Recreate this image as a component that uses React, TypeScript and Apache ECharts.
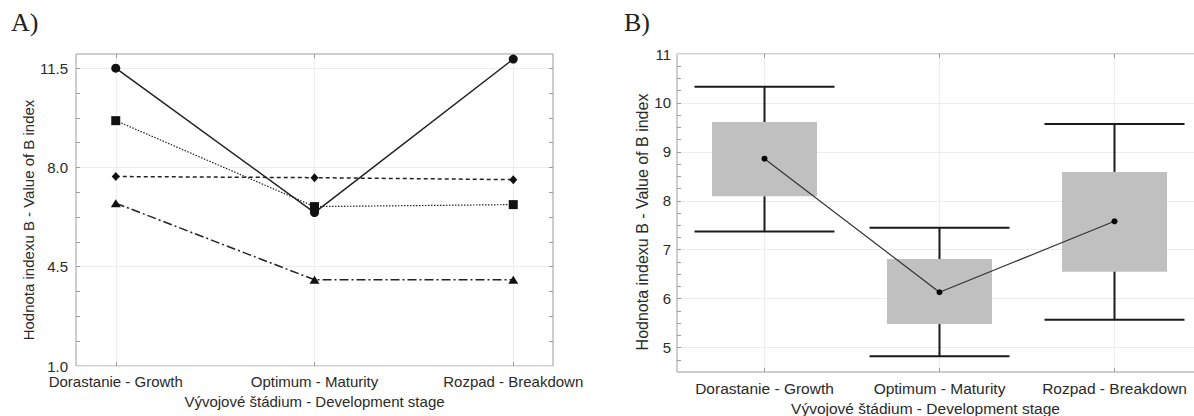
import React, { useEffect, useRef } from "react";
import * as echarts from "echarts";

// ---- data ----
const stages = ["Dorastanie - Growth", "Optimum - Maturity", "Rozpad - Breakdown"];
const stagePositions = [0, 1, 2];

// Panel A: four lines
const seriesCircle = [11.5, 6.41, 11.82];
const seriesSquare = [9.65, 6.62, 6.69];
const seriesDiamond = [7.68, 7.64, 7.57];
const seriesTriangle = [6.74, 4.04, 4.04];
const aMajorTicks = [1.0, 4.5, 8.0, 11.5];
const aMinorTicks = [1.875, 2.75, 3.625, 4.5, 5.375, 6.25, 7.125, 8.0, 8.875, 9.75, 10.625, 11.5];

// Panel B: box plots
const boxLow = [8.09, 5.48, 6.55];
const boxHigh = [9.61, 6.81, 8.59];
const whiskerLow = [7.37, 4.82, 5.57];
const whiskerHigh = [10.33, 7.45, 9.57];
const means = [8.86, 6.13, 7.58];
const bMajorTicks = [5, 6, 7, 8, 9, 10, 11];
const bMinorTicks = [
  4.75, 5, 5.25, 5.5, 5.75, 6, 6.25, 6.5, 6.75, 7, 7.25, 7.5, 7.75, 8, 8.25, 8.5, 8.75,
  9, 9.25, 9.5, 9.75, 10, 10.25, 10.5, 10.75,
];

const yTitle = "Hodnota indexu B - Value of B index";
const xTitle = "Vývojové štádium - Development stage";

const FONT = "'Liberation Sans', Arial, Helvetica, sans-serif";
const TEXT = "#2a2a2a";
const FRAME = "#9c9c9c";
const GRIDC = "#ececec";

export default function App() {
  const ref = useRef<HTMLDivElement>(null);

  useEffect(() => {
    if (!ref.current) return;
    const chart = echarts.init(ref.current, undefined, { renderer: "svg" });

    const tickAxisCommon = {
      axisLine: { show: false, onZero: false },
      axisLabel: { show: false },
      splitLine: { show: false },
    };

    const lineSeries = (
      name: string,
      vals: number[],
      symbol: string,
      size: number | number[],
      type: any,
      width: number
    ) => ({
      name,
      type: "line",
      xAxisIndex: 0,
      yAxisIndex: 0,
      data: stagePositions.map((x, i) => [x, vals[i]]),
      symbol,
      symbolSize: size,
      itemStyle: { color: "#111" },
      lineStyle: { color: "#222", width, type },
      z: 3,
    });

    chart.setOption({
      animation: false,
      backgroundColor: "#ffffff",
      textStyle: { fontFamily: FONT },
      graphic: [
        {
          type: "text",
          left: 11,
          top: 9,
          style: { text: "A)", font: "26px 'Liberation Serif', 'Times New Roman', serif", fill: "#222" },
        },
        {
          type: "text",
          left: 624,
          top: 9,
          style: { text: "B)", font: "26px 'Liberation Serif', 'Times New Roman', serif", fill: "#222" },
        },
      ],
      grid: [
        {
          left: 76, top: 54, width: 477, height: 312,
          show: true, borderColor: FRAME, borderWidth: 1, backgroundColor: "#fff",
          outerBoundsMode: "none", containLabel: false,
        },
        {
          left: 677, top: 54, width: 525, height: 318,
          show: true, borderColor: FRAME, borderWidth: 1, backgroundColor: "#fff",
          outerBoundsMode: "none", containLabel: false,
        },
      ],
      xAxis: [
        {
          gridIndex: 0,
          type: "value",
          position: "bottom",
          min: -0.2,
          max: 2.2,
          axisLine: { show: false, onZero: false },
          axisTick: { show: true, inside: true, length: 4, customValues: stagePositions, lineStyle: { color: FRAME } },
          axisLabel: {
            customValues: stagePositions,
            formatter: (v: number) => stages[Math.round(v)],
            fontSize: 15,
            lineHeight: 15,
            color: TEXT,
            margin: 8,
          },
          splitLine: { show: true, lineStyle: { color: GRIDC, width: 1 } },
          name: xTitle,
          nameLocation: "middle",
          nameGap: 23,
          nameTextStyle: { fontSize: 15, color: TEXT },
        },
        {
          gridIndex: 0,
          type: "value",
          position: "top",
          min: -0.2,
          max: 2.2,
          ...tickAxisCommon,
          axisTick: { show: true, inside: true, length: 4, customValues: stagePositions, lineStyle: { color: FRAME } },
        },
        {
          gridIndex: 1,
          type: "value",
          position: "bottom",
          min: -0.5,
          max: 2.5,
          axisLine: { show: false, onZero: false },
          axisTick: { show: true, inside: true, length: 4, customValues: stagePositions, lineStyle: { color: FRAME } },
          axisLabel: {
            customValues: stagePositions,
            formatter: (v: number) => stages[Math.round(v)],
            fontSize: 15.5,
            lineHeight: 14,
            color: TEXT,
            margin: 9,
          },
          splitLine: { show: true, lineStyle: { color: GRIDC, width: 1 } },
          name: xTitle,
          nameLocation: "middle",
          nameGap: 23,
          nameTextStyle: { fontSize: 15.5, lineHeight: 14, color: TEXT, padding: [0, 28, 0, 0] },
        },
        {
          gridIndex: 1,
          type: "value",
          position: "top",
          min: -0.5,
          max: 2.5,
          ...tickAxisCommon,
          axisTick: { show: true, inside: true, length: 4, customValues: stagePositions, lineStyle: { color: FRAME } },
        },
      ],
      yAxis: [
        {
          gridIndex: 0,
          type: "value",
          position: "left",
          min: 1,
          max: 12,
          axisLine: { show: false, onZero: false },
          axisTick: { show: false, customValues: aMajorTicks },
          axisLabel: {
            customValues: aMajorTicks,
            formatter: (v: number) => v.toFixed(1),
            fontSize: 15,
            lineHeight: 12,
            color: TEXT,
            margin: 8,
          },
          splitLine: { show: true, lineStyle: { color: GRIDC, width: 1 } },
          name: yTitle,
          nameLocation: "middle",
          nameGap: 40,
          nameTextStyle: { fontSize: 15, color: TEXT, padding: [0, 20, 0, 0] },
        },
        {
          gridIndex: 0,
          type: "value",
          position: "left",
          min: 1,
          max: 12,
          ...tickAxisCommon,
          axisTick: { show: true, inside: true, length: 4, customValues: aMinorTicks, lineStyle: { color: FRAME } },
        },
        {
          gridIndex: 0,
          type: "value",
          position: "right",
          min: 1,
          max: 12,
          ...tickAxisCommon,
          axisTick: { show: true, inside: true, length: 4, customValues: aMinorTicks, lineStyle: { color: FRAME } },
        },
        {
          gridIndex: 1,
          type: "value",
          position: "left",
          min: 4.5,
          max: 11,
          axisLine: { show: false, onZero: false },
          axisTick: { show: false, customValues: bMajorTicks },
          axisLabel: {
            customValues: bMajorTicks,
            fontSize: 15,
            lineHeight: 12,
            color: TEXT,
            margin: 6,
          },
          splitLine: { show: true, lineStyle: { color: GRIDC, width: 1 } },
          name: yTitle,
          nameLocation: "middle",
          nameGap: 27,
          nameTextStyle: { fontSize: 16, color: TEXT, padding: [0, 18, 0, 0] },
        },
        {
          gridIndex: 1,
          type: "value",
          position: "left",
          min: 4.5,
          max: 11,
          ...tickAxisCommon,
          axisTick: { show: true, inside: true, length: 4, customValues: bMinorTicks, lineStyle: { color: FRAME } },
        },
      ],
      series: [
        lineSeries("circle", seriesCircle, "circle", 9, "solid", 1.5),
        lineSeries("square", seriesSquare, "rect", 9, [1.5, 1.5], 1.2),
        lineSeries("diamond", seriesDiamond, "diamond", [8, 9], [4, 3], 1.5),
        lineSeries("triangle", seriesTriangle, "triangle", [10, 8], [9, 3, 2, 3], 1.5),
        {
          name: "boxes",
          type: "custom",
          xAxisIndex: 2,
          yAxisIndex: 3,
          data: stagePositions.map((x, i) => [x, boxLow[i], boxHigh[i], whiskerLow[i], whiskerHigh[i]]),
          encode: { x: 0, y: [1, 2, 3, 4] },
          z: 2,
          renderItem: (params: any, api: any) => {
            const x = api.value(0);
            const unit = api.size([1, 0])[0];
            const bLo = api.coord([x, api.value(1)]);
            const bHi = api.coord([x, api.value(2)]);
            const wLo = api.coord([x, api.value(3)]);
            const wHi = api.coord([x, api.value(4)]);
            const bw = unit * 0.3;
            const cw = unit * 0.4;
            const ls = { stroke: "#1a1a1a", lineWidth: 2 };
            return {
              type: "group",
              children: [
                {
                  type: "rect",
                  shape: { x: bLo[0] - bw, y: bHi[1], width: 2 * bw, height: bLo[1] - bHi[1] },
                  style: { fill: "#c0c0c0" },
                },
                { type: "line", shape: { x1: wHi[0], y1: wHi[1], x2: bHi[0], y2: bHi[1] }, style: ls },
                { type: "line", shape: { x1: wLo[0], y1: wLo[1], x2: bLo[0], y2: bLo[1] }, style: ls },
                { type: "line", shape: { x1: wHi[0] - cw, y1: wHi[1], x2: wHi[0] + cw, y2: wHi[1] }, style: ls },
                { type: "line", shape: { x1: wLo[0] - cw, y1: wLo[1], x2: wLo[0] + cw, y2: wLo[1] }, style: ls },
              ],
            };
          },
        },
        {
          name: "mean",
          type: "line",
          xAxisIndex: 2,
          yAxisIndex: 3,
          data: stagePositions.map((x, i) => [x, means[i]]),
          symbol: "circle",
          symbolSize: 6,
          itemStyle: { color: "#000" },
          lineStyle: { color: "#333", width: 1.2 },
          z: 5,
        },
      ],
    });

    return () => chart.dispose();
  }, []);

  return (
    <div
      ref={ref}
      style={{ position: "absolute", left: 0, top: 0, width: 1194, height: 416 }}
    />
  );
}
